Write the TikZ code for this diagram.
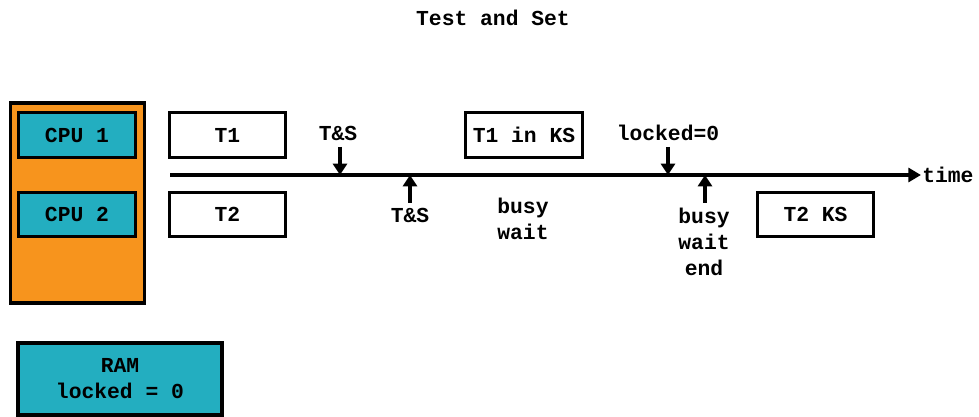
\documentclass[tikz,border=0pt]{standalone}
\usepackage{fontspec}
\setmainfont{Liberation Mono}
\usepackage{xcolor}
\usetikzlibrary{arrows.meta}

\definecolor{cpuorange}{RGB}{247,148,29}
\definecolor{cputeal}{RGB}{35,174,192}
\newcommand{\tsfont}{\fontsize{16}{19.5}\selectfont\bfseries}

\tikzset{
  lbl/.style={font=\tsfont, inner sep=0pt, align=center},
  tbox/.style={draw, line width=2.4pt, fill=white, minimum width=87.5pt, minimum height=33.5pt, font=\tsfont},
  cpubox/.style={tbox, fill=cputeal},
  tick/.style={line width=2.4pt, -{Triangle[length=8.5pt,width=10.5pt]}},
}

\begin{document}
\begin{tikzpicture}[x=0.75pt, y=-0.75pt]
\useasboundingbox (0,0) rectangle (979,417);

\node[lbl] (title) at (493,18) {Test and Set};

% cpus and ram
\node[draw, line width=2.4pt, fill=cpuorange, minimum width=100.5pt, minimum height=150pt] (board) at (77.5,203) {};
\node[cpubox] (cpu1) at (77,135) {CPU 1};
\node[cpubox] (cpu2) at (77,214.5) {CPU 2};
\node[tbox, fill=cputeal, minimum width=153pt, minimum height=54pt, align=center] (ram) at (120,379) {RAM\\locked = 0};

% threads
\node[tbox] (t1) at (227.5,135) {T1};
\node[tbox] (t2) at (227.5,214.5) {T2};
\node[tbox] (t1ks) at (524,135) {T1 in KS};
\node[tbox] (t2ks) at (815.5,214.5) {T2 KS};

% time line
\coordinate (t0) at (170,175);
\coordinate (tend) at (921,175);
\draw[line width=2.5pt, -{Triangle[length=9.5pt,width=10.5pt]}] (t0) -- (tend);
\node[lbl, anchor=west] (time) at (922,175) {time};

% events
\node[lbl] (ts1) at (338,133) {T\&S};
\coordinate (a1) at (340,147);
\coordinate (b1) at (340,175);
\draw[tick] (a1) -- (b1);

\node[lbl] (ts2) at (410,215) {T\&S};
\coordinate (a2) at (410,203);
\coordinate (b2) at (410,175);
\draw[tick] (a2) -- (b2);

\node[lbl] (busy) at (523,219) {busy\\wait};

\node[lbl] (lock) at (668,133) {locked=0};
\coordinate (a3) at (668,147);
\coordinate (b3) at (668,175);
\draw[tick] (a3) -- (b3);

\node[lbl] (bwend) at (704,242) {busy\\wait\\end};
\coordinate (a4) at (705,203);
\coordinate (b4) at (705,175);
\draw[tick] (a4) -- (b4);
\end{tikzpicture}
\end{document}
